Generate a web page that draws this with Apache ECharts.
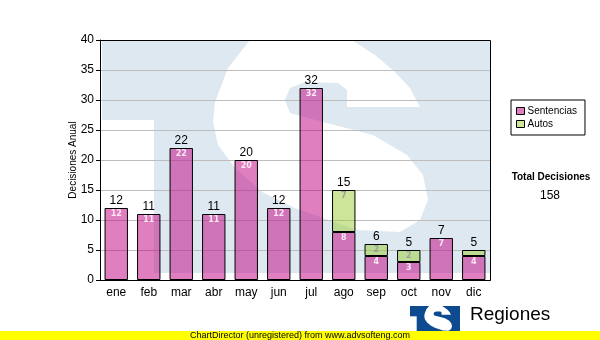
<!DOCTYPE html>
<html><head><meta charset="utf-8">
<script src="https://cdn.jsdelivr.net/npm/echarts@6/dist/echarts.min.js"></script>
<style>html,body{margin:0;padding:0;background:#fff}#c{width:600px;height:340px}</style>
</head><body><div id="c"></div>
<script>
const categories = ['ene','feb','mar','abr','may','jun','jul','ago','sep','oct','nov','dic'];
const sentencias = [12,11,22,11,20,12,32,8,4,3,7,4];
const autos      = [0,0,0,0,0,0,0,7,2,2,0,1];
const seriesNames = ['Sentencias','Autos'];
const yMin = 0, yMax = 40, yStep = 5;
const totals = sentencias.map((v,i)=>v+autos[i]);
const grandTotal = totals.reduce((a,b)=>a+b,0);

const FONT = '"Liberation Sans", Arial, sans-serif';
const PINK = 'rgba(193,0,128,0.5)';
const GREEN = 'rgba(153,204,51,0.5)';

// watermark logo shape (decoration)
const sPoly = [[250,40],[352,40],[375,55],[395,72],[410,88],[420,107],[347,107],[347,90],[338,83],[305,82],[290,88],[285,100],[290,113],[323,122],[373,135],[407,155],[423,175],[428,200],[420,220],[400,232],[357,230],[295,208],[262,192],[235,168],[218,145],[213,122],[215,102],[228,68]];
function logoChildren(blue){
  return [
    {type:'rect', shape:{x:102,y:40,width:388,height:233}, style:{fill:blue}},
    {type:'rect', shape:{x:102,y:120,width:52,height:160}, style:{fill:'#fff'}},
    {type:'polygon', shape:{points:sPoly}, style:{fill:'#fff'}}
  ];
}
const s = 50/388;

const chart = echarts.init(document.getElementById('c'), null, {renderer:'canvas'});
chart.setOption({
  animation:false,
  backgroundColor:'#fff',
  grid:{left:100, right:110, top:40, bottom:60, show:false},
  xAxis:{type:'category', data:categories,
    axisLine:{lineStyle:{color:'#000',width:1}},
    axisTick:{alignWithLabel:true, length:4, lineStyle:{color:'#000'}},
    axisLabel:{color:'#000', fontSize:12, fontFamily:FONT, margin:7}},
  yAxis:{type:'value', min:yMin, max:yMax, interval:yStep,
    name:'Decisiones Anual', nameLocation:'middle', nameGap:22, nameRotate:90, nameMoveOverlap:false,
    nameTextStyle:{color:'#000', fontSize:10, fontFamily:FONT},
    axisLine:{show:true, lineStyle:{color:'#000'}},
    axisTick:{show:true, length:4, lineStyle:{color:'#000'}},
    axisLabel:{color:'#000', fontSize:12, fontFamily:FONT, margin:6},
    splitLine:{lineStyle:{color:'#bdbdbd', width:1}}},
  legend:{data:seriesNames, orient:'vertical', left:511, top:100, width:72,
    borderColor:'#000', borderWidth:1, padding:[6,8,6,5], itemGap:3,
    itemWidth:8, itemHeight:7, icon:'rect',
    itemStyle:{borderColor:'#000', borderWidth:1},
    textStyle:{color:'#000', fontSize:10, fontFamily:FONT, padding:[0,0,0,-2]}},
  graphic:[
    {type:'group', z:-1, silent:true, children:logoChildren('#dde8f1')},
    {type:'text', x:551, y:177, z:5, style:{text:'Total Decisiones', fill:'#000', font:'bold 10px '+FONT, textAlign:'center', textVerticalAlign:'middle'}},
    {type:'text', x:550, y:196, z:5, style:{text:String(grandTotal), fill:'#000', font:'12px '+FONT, textAlign:'center', textVerticalAlign:'middle'}},
    {type:'group', x:410-102*s, y:306-40*s, scaleX:s, scaleY:s, z:5, silent:true, children:logoChildren('#0d4a8f')},
    {type:'text', x:470, y:315, z:5, style:{text:'Regiones', fill:'#000', font:'19px '+FONT, textVerticalAlign:'middle'}},
    {type:'rect', z:20, shape:{x:0,y:331,width:600,height:9}, style:{fill:'#ffff00'}},
    {type:'text', x:190, y:335.5, z:21, style:{text:'ChartDirector (unregistered) from www.advsofteng.com', fill:'#000', font:'9px '+FONT, textVerticalAlign:'middle'}}
  ],
  series:[
    {name:seriesNames[0], type:'bar', stack:'t', barWidth:'72%', data:sentencias.map(v=>v||'-'),
      itemStyle:{color:PINK, borderColor:'#000', borderWidth:1},
      label:{show:true, position:'insideTop', distance:2, color:'#fde6f4', fontSize:8, fontWeight:'bold', fontFamily:'"DejaVu Sans", sans-serif',
        formatter:p=>p.value>=2?String(p.value):''}},
    {name:seriesNames[1], type:'bar', stack:'t', barWidth:'72%', data:autos.map(v=>v||'-'),
      itemStyle:{color:GREEN, borderColor:'#000', borderWidth:1},
      label:{show:true, position:'insideTop', distance:2, color:'#9c9c9c', fontSize:8, fontWeight:'bold', fontFamily:'"DejaVu Sans", sans-serif',
        formatter:p=>p.value>=2?String(p.value):''}},
    {name:'total', type:'bar', stack:'t', barWidth:'72%', data:totals.map(()=>0),
      itemStyle:{color:'transparent', borderWidth:0},
      label:{show:true, position:'top', distance:1, color:'#000', fontSize:12, fontFamily:FONT,
        formatter:p=>String(totals[p.dataIndex])}}
  ]
});
// plot frame drawn from the grid's own rectangle
const r = chart.getModel().getComponent('grid').coordinateSystem.getRect();
chart.setOption({graphic:[{type:'rect', id:'frame', z:10, silent:true,
  shape:{x:Math.round(r.x)+0.5, y:Math.round(r.y)+0.5, width:Math.round(r.width), height:Math.round(r.height)},
  style:{fill:'none', stroke:'#000', lineWidth:1}}]});
</script></body></html>
